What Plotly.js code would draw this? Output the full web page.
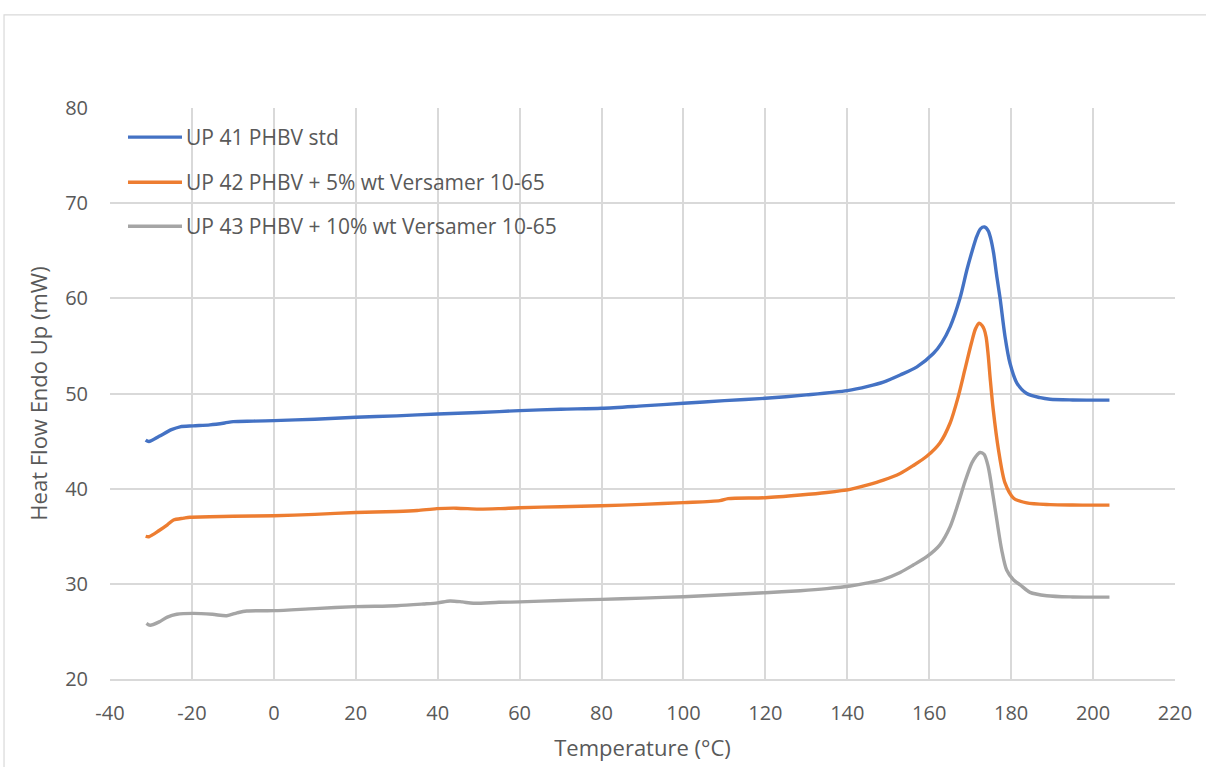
<!DOCTYPE html>
<html>
<head>
<meta charset="utf-8">
<script src="https://cdn.plot.ly/plotly-3.0.1.min.js"></script>
<style>
  html, body { margin: 0; padding: 0; background: #ffffff; }
  #chart { width: 1206px; height: 767px; }
</style>
</head>
<body>
<div id="chart"></div>
<script>
// DSC heating scans, heat flow endo up (mW) vs temperature (°C)
const seriesNames = [
  "UP 41 PHBV std",
  "UP 42 PHBV + 5% wt Versamer 10-65",
  "UP 43 PHBV + 10% wt Versamer 10-65"
];

const tempUP41 = [-31.3, -30.5, -28, -25, -22.9, -19.7, -15.6, -12, -9.9, -5, 0, 10, 20, 30, 40, 50, 60, 70, 80, 90, 100, 110, 120, 130, 140, 145, 148.8, 152.9, 157, 161, 163, 165.1, 167.5, 169.2, 170.5, 171.6, 172.5, 173.5, 174.4, 175.0, 175.7, 176.5, 177.3, 178.5, 179.7, 181.4, 183.8, 187.1, 189.5, 195, 200, 204];
const heatUP41 = [45.1, 44.95, 45.5, 46.2, 46.5, 46.6, 46.7, 46.9, 47.05, 47.1, 47.15, 47.3, 47.5, 47.65, 47.85, 48.0, 48.2, 48.35, 48.45, 48.7, 48.97, 49.25, 49.5, 49.85, 50.3, 50.75, 51.2, 51.95, 52.8, 54.2, 55.3, 57.0, 60.0, 63.0, 65.0, 66.5, 67.3, 67.5, 67.1, 66.3, 64.8, 62.3, 60.0, 56.0, 53.2, 51.1, 50.0, 49.56, 49.4, 49.32, 49.3, 49.3];

const tempUP42 = [-31.3, -30.5, -28, -26, -24.5, -22, -20.5, -10, 0, 10, 20, 30, 35, 39.8, 44.6, 50, 55, 60, 70, 80, 90, 100, 108.9, 110.9, 120, 128.5, 135, 140.7, 145, 148.8, 152.9, 156, 159.4, 162.6, 165.1, 167.1, 168.7, 170.3, 171.3, 172.2, 172.9, 173.4, 173.9, 174.4, 174.9, 175.6, 176.9, 178.5, 180.6, 183.8, 189.5, 195, 200, 204];
const heatUP42 = [35.0, 34.95, 35.6, 36.2, 36.7, 36.9, 37.0, 37.1, 37.16, 37.3, 37.5, 37.6, 37.7, 37.9, 37.95, 37.85, 37.9, 38.0, 38.1, 38.2, 38.35, 38.53, 38.74, 38.95, 39.05, 39.33, 39.6, 39.93, 40.4, 40.9, 41.6, 42.4, 43.4, 44.8, 46.9, 49.7, 52.5, 55.3, 56.8, 57.4, 57.15, 56.75, 55.9, 54.0, 51.5, 48.4, 44.1, 40.6, 39.0, 38.5, 38.32, 38.28, 38.27, 38.27];

const tempUP43 = [-31.1, -30.2, -28, -26, -23.7, -19.7, -15, -11.5, -9, -6.6, 0, 10, 20, 30, 36.5, 40, 43, 46, 48.7, 55, 60, 70, 80, 90, 100, 110, 120, 128.5, 135, 140.7, 145, 148.8, 152.9, 156, 159.4, 162.6, 165.1, 167.1, 168.7, 170.4, 171.4, 172.4, 173.4, 174.4, 175.6, 176.5, 177.7, 178.9, 180.6, 182.2, 184.6, 188.7, 195, 200, 204];
const heatUP43 = [25.85, 25.65, 26.0, 26.5, 26.8, 26.9, 26.8, 26.65, 26.95, 27.15, 27.18, 27.4, 27.6, 27.7, 27.88, 28.0, 28.2, 28.1, 27.96, 28.06, 28.1, 28.25, 28.37, 28.5, 28.65, 28.85, 29.07, 29.28, 29.5, 29.77, 30.1, 30.48, 31.2, 31.95, 32.85, 34.1, 36.0, 38.5, 40.7, 42.7, 43.4, 43.8, 43.6, 42.3, 39.2, 36.7, 33.55, 31.45, 30.4, 29.9, 29.1, 28.75, 28.62, 28.6, 28.6];

const xTicks = [-40, -20, 0, 20, 40, 60, 80, 100, 120, 140, 160, 180, 200, 220];
const yTicks = [20, 30, 40, 50, 60, 70, 80];

const colors = ["#4472C4", "#ED7D31", "#A5A5A5"];
const temps = [tempUP41, tempUP42, tempUP43];
const heats = [heatUP41, heatUP42, heatUP43];

const FONT = "'Open Sans', 'Noto Sans', sans-serif";
const TEXT = "#595959";
const GRID = "#d9d9d9";

const traces = seriesNames.map((name, i) => ({
  type: "scatter",
  mode: "lines",
  name: name,
  x: temps[i],
  y: heats[i],
  line: { color: colors[i], width: 3.4, shape: "spline", smoothing: 0.8 },
  showlegend: false,
  hoverinfo: "x+y+name"
}));

// Legend drawn in the upper-left corner of the plot area
const legendY = [0.949, 0.870, 0.793];
const shapes = [
  // outer chart frame
  { type: "rect", xref: "paper", yref: "paper", x0: -0.0995, x1: 1.2, y0: -0.3, y1: 1.163,
    line: { color: GRID, width: 1.2 }, fillcolor: "rgba(0,0,0,0)", layer: "below" }
];
const annotations = [];
seriesNames.forEach((name, i) => {
  shapes.push({
    type: "line", xref: "paper", yref: "paper",
    x0: 0.0169, x1: 0.0676, y0: legendY[i], y1: legendY[i],
    line: { color: colors[i], width: 3.4 }
  });
  annotations.push({
    xref: "paper", yref: "paper", x: 0.0695, y: legendY[i],
    xanchor: "left", yanchor: "middle", showarrow: false,
    text: name, font: { family: FONT, size: 21, color: TEXT }
  });
});

const layout = {
  width: 1206,
  height: 767,
  paper_bgcolor: "#ffffff",
  plot_bgcolor: "#ffffff",
  margin: { l: 110, r: 31, t: 108, b: 88, pad: 0 },
  font: { family: FONT, size: 20, color: TEXT },
  xaxis: {
    range: [-40, 220],
    tickvals: xTicks,
    ticktext: xTicks.map(String),
    showgrid: true, gridcolor: GRID, gridwidth: 1.5,
    zeroline: false,
    showline: true, linecolor: GRID, linewidth: 1.5,
    ticks: "", ticklen: 0,
    ticklabelstandoff: 15,
    tickfont: { family: FONT, size: 20, color: TEXT },
    title: { text: "Temperature (°C)", font: { family: FONT, size: 22, color: TEXT }, standoff: 16 },
    automargin: false
  },
  yaxis: {
    range: [20, 80],
    tickvals: yTicks,
    ticktext: yTicks.map(String),
    showgrid: true, gridcolor: GRID, gridwidth: 1.5,
    zeroline: false,
    showline: false,
    ticks: "", ticklen: 0,
    ticklabelstandoff: 21,
    tickfont: { family: FONT, size: 20, color: TEXT },
    title: { text: "Heat Flow Endo Up (mW)", font: { family: FONT, size: 22, color: TEXT }, standoff: 11 },
    automargin: false
  },
  shapes: shapes,
  annotations: annotations,
  showlegend: false
};

Plotly.newPlot("chart", traces, layout, { displayModeBar: false });
</script>
</body>
</html>
